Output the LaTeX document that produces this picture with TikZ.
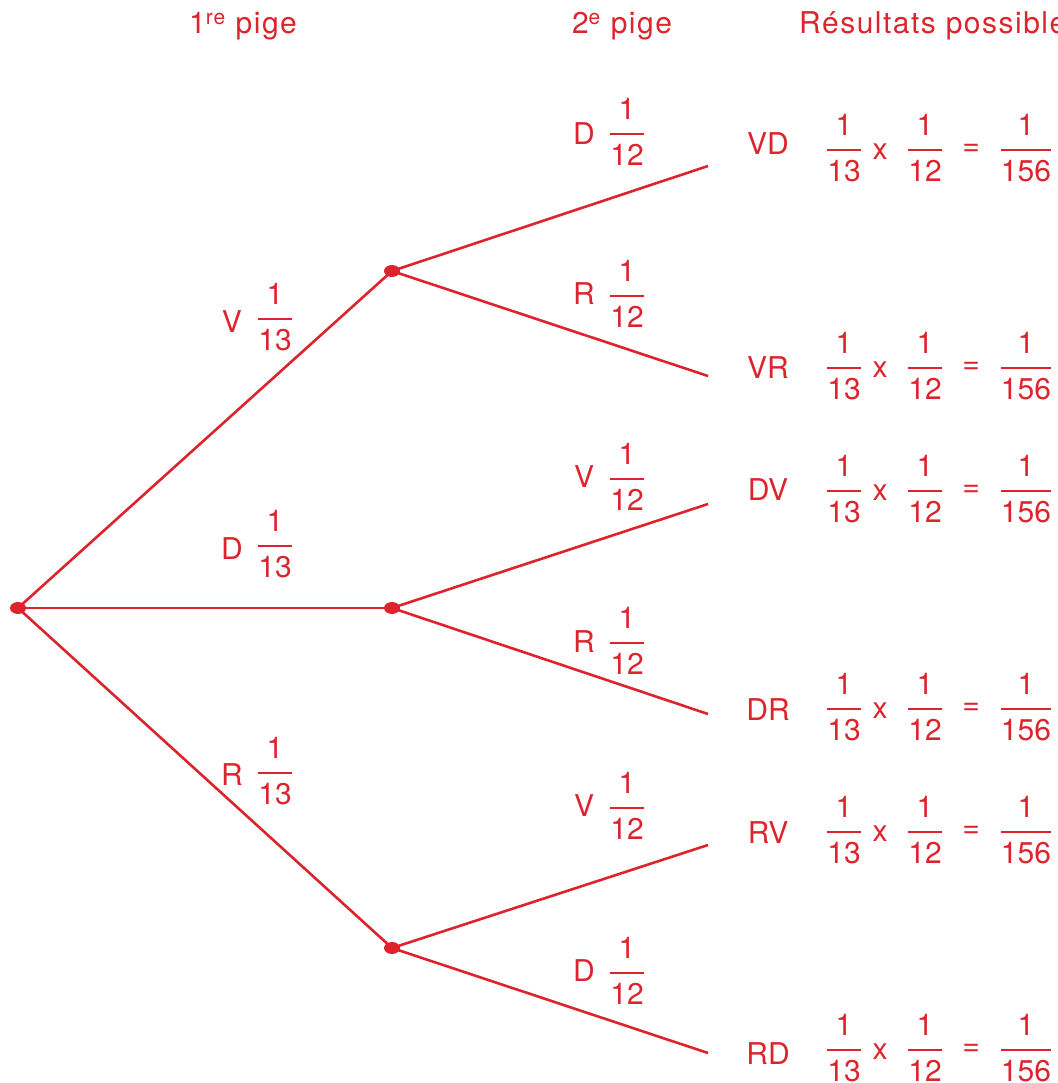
\documentclass[tikz,border=0pt]{standalone}
\usepackage{fontspec}
\setmainfont{TeX Gyre Heros}
\usetikzlibrary{shapes.geometric}
\definecolor{myred}{RGB}{221,36,45}
\newcommand\myfr[2]{{\renewcommand\arraystretch{1.222}\setlength\arrayrulewidth{2pt}\begin{tabular}{@{}c@{}}#1\\\hline #2\end{tabular}}}
\begin{document}
\begin{tikzpicture}[x=1pt,y=-1pt,
  every node/.style={text=myred, inner sep=0pt, font=\fontsize{30}{36}\selectfont},
  head/.style={font=\fontsize{30}{36}\selectfont\addfontfeature{LetterSpace=5}},
  dot/.style={ellipse, fill=myred, minimum width=16pt, minimum height=12pt, inner sep=0pt},
  br/.style={draw=myred, line width=2.6pt}]
\useasboundingbox (0,0) rectangle (1057,1083);
\clip (0,0) rectangle (1057,1083);
% headers
\node[head, anchor=base] (h1) at (243,34) {1\textsuperscript{re} pige};
\node[head, anchor=base] (h2) at (622,34) {2\textsuperscript{e} pige};
\node[head, anchor=base west] (h3) at (799,34) {Résultats possibles};
% tree nodes
\node[dot] (r) at (18,608) {};
\node[dot] (m1) at (392,271) {};
\node[dot] (m2) at (392,608) {};
\node[dot] (m3) at (392,948) {};
\coordinate (e1) at (708,166);
\coordinate (e2) at (708,376);
\coordinate (e3) at (708,504);
\coordinate (e4) at (708,714);
\coordinate (e5) at (708,845);
\coordinate (e6) at (708,1053);
\draw[br] (r.center) -- (m1.center);
\draw[br] (r.center) -- (m2.center);
\draw[br] (r.center) -- (m3.center);
\draw[br] (m1.center) -- (e1);
\draw[br] (m1.center) -- (e2);
\draw[br] (m2.center) -- (e3);
\draw[br] (m2.center) -- (e4);
\draw[br] (m3.center) -- (e5);
\draw[br] (m3.center) -- (e6);
% first-level labels
\node (bV) at (232,322) {V}; \node (bVf) at (275,319) {\myfr{1}{13}};
\node (bD) at (232,549) {D}; \node (bDf) at (275,546) {\myfr{1}{13}};
\node (bR) at (232,775) {R}; \node (bRf) at (275,773) {\myfr{1}{13}};
% second-level labels
\foreach \n/\lab/\ly/\by in {1/D/134/134, 2/R/294/296, 3/V/477/479, 4/R/642/643, 5/V/806/808, 6/D/971/973}{
  \node (s\n) at (584,\ly) {\lab};
  \node (sf\n) at (627,\by) {\myfr{1}{12}};
}
% results
\foreach \n/\lab/\ly/\by in {1/VD/144/150, 2/VR/368/368, 3/DV/490/491, 4/DR/710/709, 5/RV/833/832, 6/RD/1054/1050}{
  \node (L\n) at (768,\ly) {\lab};
  \node (fa\n) at (844,\by) {\myfr{1}{13}};
  \node (x\n) at (880,\by+2) {x};
  \node (fb\n) at (925,\by) {\myfr{1}{12}};
  \node (q\n) at (971,\by) {=};
  \node (fc\n) at (1026,\by) {\myfr{1}{156}};
}
\end{tikzpicture}
\end{document}
